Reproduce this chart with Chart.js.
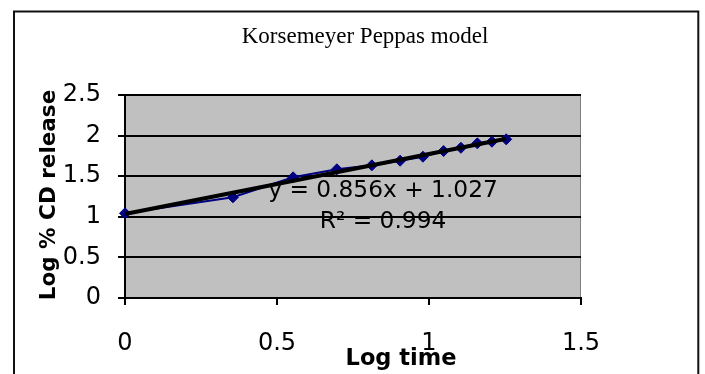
<!DOCTYPE html>
<html><head><meta charset="utf-8">
<script src="https://cdn.jsdelivr.net/npm/chart.js@4"></script>
<style>html,body{margin:0;padding:0;background:#fff}#wrap{width:705px;height:374px}</style>
</head><body><div id="wrap"><canvas id="c" width="705" height="374"></canvas></div>
<script>
const chartTitle = 'Korsemeyer Peppas model';
const xAxisTitle = 'Log time';
const yAxisTitle = 'Log % CD release';
const equationLines = ['y = 0.856x + 1.027', 'R\u00B2 = 0.994'];
const logTime = [0, 0.355, 0.553, 0.697, 0.812, 0.905, 0.980, 1.048, 1.105, 1.159, 1.207, 1.254];
const logRelease = [1.043, 1.240, 1.486, 1.585, 1.634, 1.691, 1.740, 1.810, 1.850, 1.905, 1.925, 1.954];
const xTicks = [0, 0.5, 1, 1.5];
const yTicks = [0, 0.5, 1, 1.5, 2, 2.5];

function linearFit(xs, ys) {
  const n = xs.length;
  const mx = xs.reduce((a, b) => a + b, 0) / n;
  const my = ys.reduce((a, b) => a + b, 0) / n;
  let sxy = 0, sxx = 0;
  for (let i = 0; i < n; i++) { sxy += (xs[i] - mx) * (ys[i] - my); sxx += (xs[i] - mx) * (xs[i] - mx); }
  const slope = sxy / sxx;
  return { slope, intercept: my - slope * mx };
}
const fit = linearFit(logTime, logRelease);
const xMin = Math.min(...logTime), xMax = Math.max(...logTime);
const trendPoints = [xMin, xMax].map(x => ({ x, y: fit.intercept + fit.slope * x }));
const dataPoints = logTime.map((x, i) => ({ x, y: logRelease[i] }));

const decor = {
  id: 'decor',
  beforeDraw(chart) {
    const { ctx, chartArea: a } = chart;
    ctx.save();
    ctx.fillStyle = '#ffffff';
    ctx.fillRect(0, 0, chart.width, chart.height);
    ctx.fillStyle = '#C0C0C0';
    ctx.fillRect(a.left, a.top, a.right - a.left, a.bottom - a.top);
    ctx.strokeStyle = '#808080';
    ctx.lineWidth = 1;
    ctx.strokeRect(a.left + 0.5, a.top + 0.5, a.right - a.left - 1, a.bottom - a.top - 1);
    ctx.strokeStyle = '#111';
    ctx.lineWidth = 2;
    ctx.strokeRect(14, 11.5, 684.3, 420);
    ctx.restore();
  },
  afterDraw(chart) {
    const { ctx } = chart;
    ctx.save();
    ctx.fillStyle = '#000';
    ctx.textAlign = 'center';
    ctx.textBaseline = 'alphabetic';
    ctx.font = '23px "Liberation Serif"';
    ctx.fillText(chartTitle, 365, 43.3);
    ctx.font = '23.3px "DejaVu Sans"';
    ctx.fillText(equationLines[0], 383, 196.5);
    ctx.fillText(equationLines[1], 383, 228);
    ctx.font = 'bold 22.5px "DejaVu Sans"';
    ctx.fillText(xAxisTitle, 401, 365);
    ctx.translate(55, 195);
    ctx.rotate(-Math.PI / 2);
    ctx.font = 'bold 21.5px "DejaVu Sans"';
    ctx.fillText(yAxisTitle, 0, 0);
    ctx.restore();
  }
};

const tickFont = { family: 'DejaVu Sans', size: 24 };
new Chart(document.getElementById('c'), {
  type: 'scatter',
  data: {
    datasets: [
      { label: 'Trend', data: trendPoints, showLine: true, borderColor: '#000', borderWidth: 4, pointRadius: 0, clip: false },
      { label: 'Log % CD release', data: dataPoints, showLine: true, borderColor: '#000080', borderWidth: 2,
        pointStyle: 'rectRot', pointRadius: 5.5, pointBackgroundColor: '#000080', pointBorderColor: '#000080', pointBorderWidth: 1, clip: false }
    ]
  },
  options: {
    responsive: false, animation: false, devicePixelRatio: 1,
    layout: { padding: { top: 95, right: 124, left: 0, bottom: 0 } },
    plugins: { legend: { display: false }, tooltip: { enabled: false }, title: { display: false } },
    scales: {
      x: {
        type: 'linear', min: 0, max: 1.5,
        afterBuildTicks: s => { s.ticks = xTicks.map(v => ({ value: v })); },
        afterFit: s => { s.height = 76; },
        grid: { drawOnChartArea: false, drawTicks: true, tickLength: 7, color: '#000', lineWidth: 2 },
        border: { color: '#000', width: 2 },
        ticks: { font: tickFont, color: '#000', padding: 24, maxRotation: 0, autoSkip: false, callback: v => String(v) }
      },
      y: {
        min: 0, max: 2.5,
        afterBuildTicks: s => { s.ticks = yTicks.map(v => ({ value: v })); },
        afterFit: s => { s.width = 125; },
        grid: { color: '#000', lineWidth: 2, tickLength: 7 },
        border: { color: '#000', width: 2 },
        ticks: { font: tickFont, color: '#000', padding: 17, autoSkip: false, callback: v => String(v) }
      }
    }
  },
  plugins: [decor]
});
</script>
</body></html>
